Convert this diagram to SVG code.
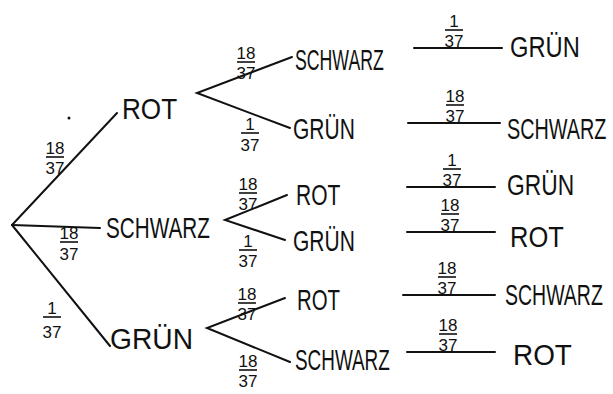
<svg xmlns="http://www.w3.org/2000/svg" width="613" height="394" viewBox="0 0 613 394">
<style>
.t{font-family:"Liberation Sans",Arial,sans-serif;font-size:30px;fill:#111;}
.n{font-family:"Liberation Sans",Arial,sans-serif;font-size:17px;fill:#111;text-anchor:middle;}
.c line,.c polyline{stroke:#111;stroke-width:2;fill:none;stroke-linecap:round;}
.b{stroke:#111;stroke-width:1.6;}
</style>
<rect width="613" height="394" fill="#fff"/>
<g id="connectors" class="c">
<line x1="12" y1="225" x2="117" y2="113"/>
<line x1="12" y1="225" x2="100" y2="228"/>
<line x1="12" y1="225" x2="110" y2="346"/>
<polyline points="292,57 197,93 290,128"/>
<polyline points="287,195 225,220 285,240"/>
<polyline points="285,298 207,328 290,362"/>
<line x1="414" y1="48" x2="502" y2="48"/>
<line x1="408" y1="123" x2="500" y2="123"/>
<line x1="407" y1="187" x2="495" y2="187"/>
<line x1="407" y1="232" x2="495" y2="232"/>
<line x1="403" y1="295" x2="495" y2="295"/>
<line x1="407" y1="352" x2="495" y2="352"/>
</g>
<circle cx="69" cy="118" r="1.5" fill="#111"/>
<g id="p-root-rot"><text class="n" x="55" y="154">18</text><line class="b" x1="46" y1="157" x2="64" y2="157"/><text class="n" x="55" y="174">37</text></g>
<g id="p-root-schwarz"><text class="n" x="69" y="239">18</text><line class="b" x1="60" y1="242" x2="78" y2="242"/><text class="n" x="69" y="260">37</text></g>
<g id="p-root-gruen"><text class="n" x="52" y="314">1</text><line class="b" x1="43" y1="317" x2="61" y2="317"/><text class="n" x="52" y="338">37</text></g>
<g id="p-rot-schwarz"><text class="n" x="246" y="59">18</text><line class="b" x1="237" y1="62" x2="255" y2="62"/><text class="n" x="246" y="79">37</text></g>
<g id="p-rot-gruen"><text class="n" x="250" y="130">1</text><line class="b" x1="241" y1="133" x2="259" y2="133"/><text class="n" x="250" y="151">37</text></g>
<g id="p-schwarz-rot"><text class="n" x="248" y="190">18</text><line class="b" x1="239" y1="193" x2="257" y2="193"/><text class="n" x="248" y="210">37</text></g>
<g id="p-schwarz-gruen"><text class="n" x="248" y="247">1</text><line class="b" x1="239" y1="250" x2="257" y2="250"/><text class="n" x="248" y="267">37</text></g>
<g id="p-gruen-rot"><text class="n" x="247" y="300">18</text><line class="b" x1="238" y1="303" x2="256" y2="303"/><text class="n" x="247" y="320">37</text></g>
<g id="p-gruen-schwarz"><text class="n" x="248" y="367">18</text><line class="b" x1="239" y1="370" x2="257" y2="370"/><text class="n" x="248" y="387">37</text></g>
<g id="p-r1"><text class="n" x="454" y="27">1</text><line class="b" x1="445" y1="30" x2="463" y2="30"/><text class="n" x="454" y="47">37</text></g>
<g id="p-r2"><text class="n" x="455" y="102">18</text><line class="b" x1="446" y1="105" x2="464" y2="105"/><text class="n" x="455" y="122">37</text></g>
<g id="p-r3"><text class="n" x="452" y="166">1</text><line class="b" x1="443" y1="169" x2="461" y2="169"/><text class="n" x="452" y="186">37</text></g>
<g id="p-r4"><text class="n" x="450" y="211">18</text><line class="b" x1="441" y1="214" x2="459" y2="214"/><text class="n" x="450" y="231">37</text></g>
<g id="p-r5"><text class="n" x="447" y="274">18</text><line class="b" x1="438" y1="277" x2="456" y2="277"/><text class="n" x="447" y="294">37</text></g>
<g id="p-r6"><text class="n" x="448" y="331">18</text><line class="b" x1="439" y1="334" x2="457" y2="334"/><text class="n" x="448" y="351">37</text></g>
<g id="n-rot"><text class="t" transform="translate(122,119) scale(0.87,1)">ROT</text></g>
<g id="n-schwarz"><text class="t" transform="translate(106,238) scale(0.69,1)">SCHWARZ</text></g>
<g id="n-gruen"><text class="t" transform="translate(110,349) scale(0.94,1)">GRÜN</text></g>
<g id="n-rot-schwarz"><text class="t" transform="translate(295,70) scale(0.59,1)">SCHWARZ</text></g>
<g id="n-rot-gruen"><text class="t" transform="translate(293,139) scale(0.70,1)">GRÜN</text></g>
<g id="n-schwarz-rot"><text class="t" transform="translate(296,205) scale(0.70,1)">ROT</text></g>
<g id="n-schwarz-gruen"><text class="t" transform="translate(293,251) scale(0.70,1)">GRÜN</text></g>
<g id="n-gruen-rot"><text class="t" transform="translate(297,310) scale(0.68,1)">ROT</text></g>
<g id="n-gruen-schwarz"><text class="t" transform="translate(295,370) scale(0.63,1)">SCHWARZ</text></g>
<g id="n-r1"><text class="t" transform="translate(510,57) scale(0.79,1)">GRÜN</text></g>
<g id="n-r2"><text class="t" transform="translate(507,139) scale(0.66,1)">SCHWARZ</text></g>
<g id="n-r3"><text class="t" transform="translate(507,195) scale(0.76,1)">GRÜN</text></g>
<g id="n-r4"><text class="t" transform="translate(510,247) scale(0.85,1)">ROT</text></g>
<g id="n-r5"><text class="t" transform="translate(505,305) scale(0.65,1)">SCHWARZ</text></g>
<g id="n-r6"><text class="t" transform="translate(513,365) scale(0.93,1)">ROT</text></g>
</svg>
